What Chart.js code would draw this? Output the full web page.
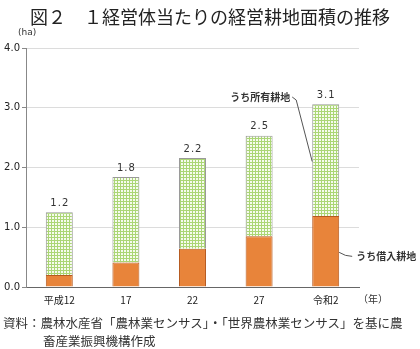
<!DOCTYPE html>
<html>
<head>
<meta charset="utf-8">
<script src="https://cdn.jsdelivr.net/npm/chart.js@4"></script>
<style>
  body { margin: 0; background: #fff; }
  #wrap { position: relative; width: 420px; height: 349px; }
  #note {
    position: absolute; left: 3px; top: 314px; width: 417px;
    font-family: "Noto Sans CJK JP", sans-serif; font-size: 12.5px;
    line-height: 18px; color: #333; white-space: nowrap;
  }
  #note .l2 { padding-left: 40px; }
</style>
</head>
<body>
<div id="wrap">
  <canvas id="chart" width="420" height="349"></canvas>
  <div id="note">
    <div>資料：農林水産省「農林業センサス」・「世界農林業センサス」を基に農</div>
    <div class="l2">畜産業振興機構作成</div>
  </div>
</div>
<script>
// Data
const years = ["平成12", "17", "22", "27", "令和2"];
const borrowed = [0.20, 0.41, 0.64, 0.85, 1.19]; // うち借入耕地
const owned = [1.05, 1.43, 1.52, 1.68, 1.87];    // うち所有耕地
const totalLabels = ["1.2", "1.8", "2.2", "2.5", "3.1"];
const yTicks = [0, 1, 2, 3, 4];

const jp = '"Noto Sans CJK JP", sans-serif';

// green check pattern for owned land
function makePattern() {
  const c = document.createElement("canvas");
  c.width = 3; c.height = 3;
  const g = c.getContext("2d");
  g.fillStyle = "#f6fbee";
  g.fillRect(0, 0, 3, 3);
  g.fillStyle = "#abd675";
  g.fillRect(0, 0, 3, 1);
  g.fillRect(0, 0, 1, 3);
  return g.createPattern(c, "repeat");
}

const labelsPlugin = {
  id: "labels",
  afterDatasetsDraw(chart) {
    const ctx = chart.ctx;
    const area = chart.chartArea;
    const ys = chart.scales.y;
    const top = chart.getDatasetMeta(1);
    const bot = chart.getDatasetMeta(0);
    ctx.save();

    // title
    ctx.fillStyle = "#222";
    ctx.font = "18px " + jp;
    ctx.textAlign = "center";
    ctx.textBaseline = "middle";
    ctx.fillText("図２　１経営体当たりの経営耕地面積の推移", 210, 17);

    // totals
    ctx.font = "10px 'DejaVu Sans'";
    ctx.fillStyle = "#333";
    ctx.letterSpacing = "1px";
    top.data.forEach((bar, i) => {
      ctx.fillText(totalLabels[i], bar.x + 0.5, bar.y - 9);
    });
    ctx.letterSpacing = "0px";

    // units
    ctx.font = "9px 'DejaVu Sans'";
    ctx.textAlign = "left";
    ctx.fillText("(ha)", 18, 33);
    ctx.textAlign = "center";
    ctx.font = "10px " + jp;
    ctx.fillText("（年）", area.right + 14, 299);

    // leader: owned
    const last = top.data[top.data.length - 1];
    const lx = last.x - last.width / 2;
    const ly = ys.getPixelForValue(2.1);
    ctx.strokeStyle = "#555";
    ctx.lineWidth = 1;
    ctx.beginPath();
    ctx.moveTo(lx, ly);
    ctx.lineTo(lx - 16, 100);
    ctx.lineTo(lx - 20, 97);
    ctx.stroke();
    ctx.font = "bold 10px " + jp;
    ctx.fillStyle = "#333";
    ctx.textAlign = "right";
    ctx.fillText("うち所有耕地", lx - 22, 97);

    // leader: borrowed
    const lb = bot.data[bot.data.length - 1];
    const bx = lb.x + lb.width / 2;
    const by = ys.getPixelForValue(0.58);
    ctx.beginPath();
    ctx.moveTo(bx, by);
    ctx.quadraticCurveTo(bx + 6, by + 4, bx + 13, by + 4);
    ctx.stroke();
    ctx.textAlign = "left";
    ctx.fillText("うち借入耕地", bx + 17, by + 4);

    ctx.restore();
  }
};

new Chart(document.getElementById("chart"), {
  type: "bar",
  data: {
    labels: years,
    datasets: [{
      label: "うち借入耕地",
      data: borrowed,
      backgroundColor: "#e8843a",
      borderColor: "#b65a1f",
      borderWidth: 1,
      barPercentage: 0.405,
      categoryPercentage: 1
    }, {
      label: "うち所有耕地",
      data: owned,
      backgroundColor: makePattern(),
      borderColor: "#999",
      borderWidth: 1,
      barPercentage: 0.405,
      categoryPercentage: 1
    }]
  },
  options: {
    responsive: false,
    animation: false,
    layout: { padding: { top: 48, right: 61, left: 0, bottom: 0 } },
    plugins: {
      legend: { display: false },
      title: { display: false },
      tooltip: { enabled: false }
    },
    scales: {
      x: {
        stacked: true,
        grid: { display: false, drawTicks: false },
        border: { color: "#666" },
        ticks: { padding: 7, color: "#222", font: { size: 10, family: jp } },
        afterFit(s) { s.height = 62; }
      },
      y: {
        stacked: true,
        min: 0, max: 4,
        afterBuildTicks(s) { s.ticks = yTicks.map(v => ({ value: v })); },
        grid: { color: "#dcdcdc", tickColor: "#888", tickLength: 4 },
        border: { color: "#888" },
        ticks: {
          padding: 2, color: "#222",
          font: { size: 10, family: "DejaVu Sans" },
          callback: v => v.toFixed(1)
        },
        afterFit(s) { s.width = 26; }
      }
    }
  },
  plugins: [labelsPlugin]
});
</script>
</body>
</html>
